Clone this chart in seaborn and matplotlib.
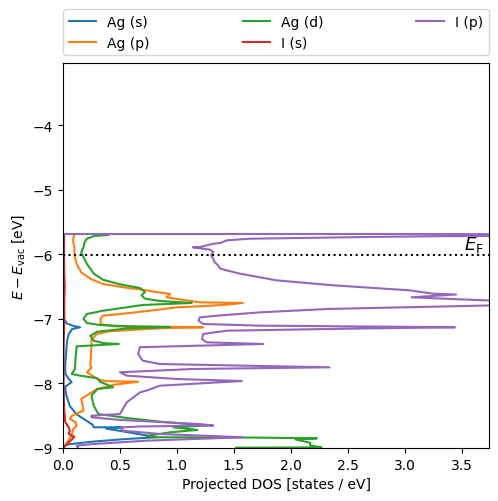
import numpy as np
import matplotlib
matplotlib.use("Agg")
import matplotlib.pyplot as plt
import seaborn as sns

e_fermi = -6.01

# Ag (s)
ag_s_E = [-5.69, -6.5, -7.0, -7.07, -7.11, -7.13, -7.16, -7.235, -7.35, -7.7, -7.85,
          -7.93, -7.98, -8.05, -8.09, -8.19, -8.35, -8.48, -8.57, -8.64, -8.68, -8.68,
          -8.70, -8.78, -8.834, -8.86, -8.90, -8.94, -8.96, -9.0]
ag_s_dos = [0.01, 0.01, 0.01, 0.03, 0.09, 0.15, 0.08, 0.05, 0.035, 0.02, 0.02,
            0.05, 0.076, 0.02, 0.02, 0.03, 0.06, 0.12, 0.20, 0.26, 0.27, 0.52,
            0.38, 0.65, 0.82, 0.56, 0.27, 0.06, 0.01, 0.0]

# Ag (p)
ag_p_E = [-5.69, -5.76, -5.81, -5.89, -6.01, -6.15, -6.28, -6.38, -6.46, -6.52, -6.55,
          -6.585, -6.616, -6.667, -6.693, -6.745, -6.75, -6.755, -6.786, -6.807, -6.822,
          -6.875, -6.915, -6.952, -7.003, -7.08, -7.116, -7.131, -7.145, -7.193, -7.235,
          -7.313, -7.416, -7.726, -7.751, -7.828, -7.94, -7.965, -7.974, -8.02, -8.087,
          -8.241, -8.42, -8.50, -8.55, -8.60, -8.655, -8.706, -8.81, -8.887, -8.964, -9.0]
ag_p_dos = [0.10, 0.09, 0.09, 0.10, 0.10, 0.12, 0.16, 0.24, 0.35, 0.56, 0.70,
            0.82, 0.94, 0.91, 1.00, 1.20, 1.40, 1.58, 1.40, 1.20, 1.00,
            0.76, 0.56, 0.35, 0.33, 0.33, 0.44, 1.23, 0.86, 0.41, 0.30,
            0.25, 0.25, 0.24, 0.25, 0.21, 0.31, 0.38, 0.66, 0.45, 0.30,
            0.16, 0.18, 0.08, 0.06, 0.11, 0.12, 0.09, 0.075, 0.045, 0.02, 0.0]

# Ag (d)
ag_d_E = [-5.70, -5.72, -5.76, -5.81, -5.89, -5.97, -6.01, -6.15, -6.30, -6.395, -6.466,
          -6.523, -6.585, -6.636, -6.689, -6.724, -6.755, -6.786, -6.822, -6.875, -6.926,
          -7.003, -7.065, -7.096, -7.116, -7.127, -7.15, -7.20, -7.262, -7.339, -7.375,
          -7.39, -7.426, -7.622, -7.777, -7.854, -7.88, -7.92, -7.974, -8.06, -8.087,
          -8.19, -8.345, -8.474, -8.535, -8.593, -8.652, -8.68, -8.72, -8.757, -8.814,
          -8.834, -8.838, -8.85, -8.868, -8.92, -8.96, -8.99, -8.995]
ag_d_dos = [0.40, 0.27, 0.21, 0.19, 0.18, 0.16, 0.17, 0.21, 0.27, 0.35, 0.50,
            0.675, 0.72, 0.69, 0.72, 0.85, 1.13, 0.70, 0.56, 0.35, 0.21,
            0.18, 0.21, 0.325, 0.56, 0.94, 0.56, 0.30, 0.24, 0.27, 0.35,
            0.49, 0.12, 0.11, 0.105, 0.076, 0.15, 0.30, 0.325, 0.44, 0.30,
            0.25, 0.27, 0.31, 0.56, 0.85, 1.27, 0.97, 1.18, 0.94, 0.73,
            0.82, 1.61, 2.23, 2.04, 2.17, 2.17, 2.27, 1.52]

# I (s)
i_s_E = [-5.69, -6.3, -6.5, -6.7, -7.1, -7.5, -8.0, -8.4, -8.6, -8.68, -8.73, -8.78,
         -8.83, -8.88, -8.93, -8.97, -9.0]
i_s_dos = [0.005, 0.01, 0.015, 0.01, 0.01, 0.005, 0.005, 0.01, 0.02, 0.05, 0.06, 0.05,
           0.10, 0.07, 0.04, 0.02, 0.0]

# I (p)
i_p_E = [-5.687, -5.687, -5.695, -5.722, -5.734, -5.749, -5.76, -5.785, -5.827, -5.838,
         -5.889, -5.893, -5.93, -5.966, -6.017, -6.07, -6.12, -6.17, -6.224, -6.30,
         -6.404, -6.481, -6.559, -6.611, -6.624, -6.667, -6.686, -6.717, -6.745, -6.848,
         -6.90, -6.952, -6.978, -7.03, -7.08, -7.106, -7.122, -7.131, -7.158, -7.184,
         -7.235, -7.313, -7.364, -7.39, -7.44, -7.545, -7.649, -7.70, -7.751, -7.777,
         -7.828, -7.88, -7.932, -7.963, -8.036, -8.113, -8.14, -8.293, -8.474, -8.50,
         -8.525, -8.565, -8.63, -8.652, -8.667, -8.683, -8.732, -8.783, -8.834, -8.887,
         -8.938, -8.964, -8.99, -9.0]
i_p_dos = [0.00, 2.78, 6.0, 3.25, 2.66, 2.08, 1.64, 1.44, 1.38, 1.32,
           1.20, 1.14, 1.29, 1.32, 1.30, 1.32, 1.33, 1.36, 1.38, 1.55,
           1.87, 2.37, 3.04, 3.25, 3.45, 3.06, 3.31, 3.75, 5.0, 2.32,
           1.73, 1.35, 1.20, 1.19, 1.23, 1.73, 2.89, 3.44, 2.32, 1.44,
           1.23, 1.22, 1.26, 1.76, 0.675, 0.66, 0.70, 0.85, 2.34, 1.14,
           0.50, 0.56, 1.00, 1.57, 0.85, 0.73, 0.675, 0.56, 0.50, 0.25,
           0.25, 0.50, 1.20, 1.32, 0.675, 0.50, 0.53, 0.85, 1.58, 0.73,
           0.27, 0.12, 0.13, 0.13]

labels = ["Ag (s)", "Ag (p)", "Ag (d)", "I (s)", "I (p)"]
energies = [ag_s_E, ag_p_E, ag_d_E, i_s_E, i_p_E]
dos = [ag_s_dos, ag_p_dos, ag_d_dos, i_s_dos, i_p_dos]
colors = sns.color_palette("tab10", 5)

fig = plt.figure(figsize=(4.98, 5.02), dpi=100)
ax = fig.add_axes([0.1265, 0.1056, 0.8555, 0.7669])

for lab, E, d, c in zip(labels, energies, dos, colors):
    sns.lineplot(x=d, y=E, sort=False, estimator=None, color=c, label=lab,
                 linewidth=1.5, ax=ax)

ax.axhline(e_fermi, color="black", linestyle=":", linewidth=1.5)
ax.text(3.52, e_fermi + 0.02, r"$E_\mathrm{F}$", fontsize=13, ha="left", va="bottom")

ax.set_xlim(0, 3.74)
ax.set_ylim(-9, -3.04)
ax.set_xlabel("Projected DOS [states / eV]")
ax.set_ylabel(r"$E - E_\mathrm{vac}$ [eV]")

ax.legend(bbox_to_anchor=(0., 1.02, 1., .102), loc="lower left", ncol=3,
          mode="expand", borderaxespad=0.)

fig.savefig("out.png", dpi=100)
